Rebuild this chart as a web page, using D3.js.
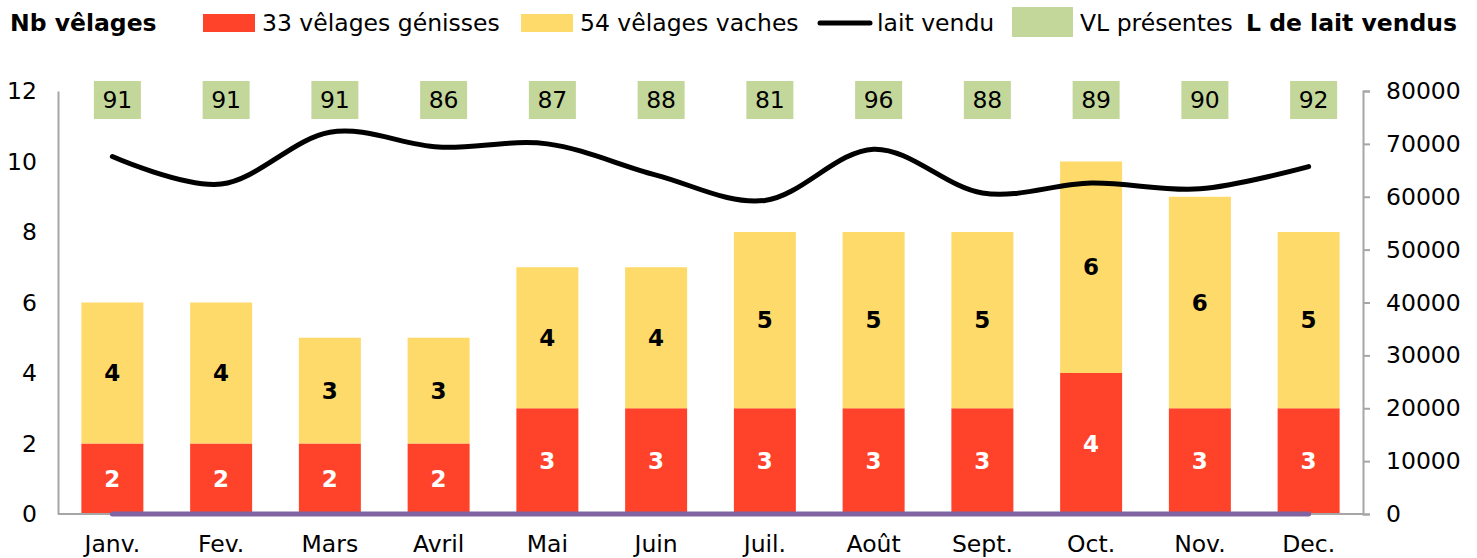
<!DOCTYPE html>
<html>
<head>
<meta charset="utf-8">
<script src="https://cdn.jsdelivr.net/npm/d3@7"></script>
<style>
  body { margin: 0; background: #fff; }
  svg { display: block; font-family: "DejaVu Sans", Verdana, sans-serif; }
</style>
</head>
<body>
<div id="chart"></div>
<script>
// mois
var months = ["Janv.", "Fev.", "Mars", "Avril", "Mai", "Juin", "Juil.", "Août", "Sept.", "Oct.", "Nov.", "Dec."];
// vêlages génisses / vaches
var genisses = [2, 2, 2, 2, 3, 3, 3, 3, 3, 4, 3, 3];
var vaches = [4, 4, 3, 3, 4, 4, 5, 5, 5, 6, 6, 5];
// litres de lait vendus
var laitVendu = [67600, 62400, 72200, 69400, 70000, 64100, 59300, 69000, 60700, 62600, 61500, 65700];
// VL présentes
var vlPresentes = [91, 91, 91, 86, 87, 88, 81, 96, 88, 89, 90, 92];
// serie a zero (ligne violette en bas)
var serieZero = [0, 0, 0, 0, 0, 0, 0, 0, 0, 0, 0, 0];

var leftTicks = [0, 2, 4, 6, 8, 10, 12];
var rightTicks = [0, 10000, 20000, 30000, 40000, 50000, 60000, 70000, 80000];

var width = 1477, height = 558;
var fs = 23.5;
var RED = "#FF432B", YELLOW = "#FDDA6A", GREEN = "#C4D79B", PURPLE = "#8064A2", AXIS = "#a6a6a6";

var svg = d3.select("#chart").append("svg")
    .attr("width", width)
    .attr("height", height);

var x = d3.scaleBand()
    .domain(months)
    .range([58, 1363])
    .paddingInner(0.43)
    .paddingOuter(0.215);

var y = d3.scaleLinear().domain([0, 12]).range([514, 91]);
var y2 = d3.scaleLinear().domain([0, 80000]).range([514, 91]);

var data = months.map(function(m, i) {
  return { m: m, g: genisses[i], v: vaches[i], lait: laitVendu[i], vl: vlPresentes[i], z: serieZero[i] };
});

// barres empilees
var bars = svg.append("g");
bars.selectAll("rect.g")
    .data(data).enter().append("rect")
    .attr("class", "g")
    .attr("x", function(d) { return x(d.m); })
    .attr("width", x.bandwidth())
    .attr("y", function(d) { return y(d.g); })
    .attr("height", function(d) { return y(0) - y(d.g); })
    .attr("fill", RED);
bars.selectAll("rect.v")
    .data(data).enter().append("rect")
    .attr("class", "v")
    .attr("x", function(d) { return x(d.m); })
    .attr("width", x.bandwidth())
    .attr("y", function(d) { return y(d.g + d.v); })
    .attr("height", function(d) { return y(d.g) - y(d.g + d.v); })
    .attr("fill", YELLOW);

// axes
var gl = svg.append("g")
    .attr("transform", "translate(58,0)")
    .call(d3.axisLeft(y).tickValues(leftTicks).tickSize(0).tickPadding(21));
var gr = svg.append("g")
    .attr("transform", "translate(1363,0)")
    .call(d3.axisRight(y2).tickValues(rightTicks).tickFormat(d3.format("d")).tickSize(7).tickPadding(16));
var gb = svg.append("g")
    .attr("transform", "translate(0,514)")
    .call(d3.axisBottom(x).tickSize(0).tickPadding(21));

[gl, gr, gb].forEach(function(g) {
  g.attr("font-family", null).attr("font-size", null);
  g.selectAll("text").style("font-size", fs + "px").attr("fill", "#000");
  g.selectAll("path, line").attr("stroke", AXIS).attr("stroke-width", 2);
});
gb.select(".domain").attr("d", "M58,0H1363");

// etiquettes des barres
bars.selectAll("text.g")
    .data(data).enter().append("text")
    .attr("x", function(d) { return x(d.m) + x.bandwidth() / 2; })
    .attr("y", function(d) { return (y(0) + y(d.g)) / 2; })
    .attr("text-anchor", "middle")
    .attr("dominant-baseline", "central")
    .attr("font-weight", "bold")
    .attr("font-size", 23)
    .attr("fill", "#fff")
    .text(function(d) { return d.g; });
bars.selectAll("text.v")
    .data(data).enter().append("text")
    .attr("x", function(d) { return x(d.m) + x.bandwidth() / 2; })
    .attr("y", function(d) { return (y(d.g) + y(d.g + d.v)) / 2; })
    .attr("text-anchor", "middle")
    .attr("dominant-baseline", "central")
    .attr("font-weight", "bold")
    .attr("font-size", 23)
    .attr("fill", "#000")
    .text(function(d) { return d.v; });

var cx = function(d) { return x(d.m) + x.bandwidth() / 2; };

// ligne violette (serie a zero)
svg.append("path")
    .datum(data)
    .attr("fill", "none")
    .attr("stroke", PURPLE)
    .attr("stroke-width", 5)
    .attr("stroke-linecap", "round")
    .attr("d", d3.line().x(cx).y(function(d) { return y(d.z); }));

// lait vendu
svg.append("path")
    .datum(data)
    .attr("fill", "none")
    .attr("stroke", "#000")
    .attr("stroke-width", 5)
    .attr("stroke-linecap", "round")
    .attr("d", d3.line().x(cx).y(function(d) { return y2(d.lait); }).curve(d3.curveCardinal.tension(0)));

// VL presentes
var vl = svg.append("g").selectAll("g")
    .data(data).enter().append("g")
    .attr("transform", function(d) { return "translate(" + (cx(d) + 5) + ",100)"; });
vl.append("rect")
    .attr("x", -23.5).attr("y", -19)
    .attr("width", 47).attr("height", 38)
    .attr("fill", GREEN);
vl.append("text")
    .attr("text-anchor", "middle")
    .attr("dominant-baseline", "central")
    .attr("font-size", fs)
    .text(function(d) { return d.vl; });

// legende
var leg = svg.append("g").attr("font-size", fs);
leg.append("text").attr("x", 10).attr("y", 31).attr("font-weight", "bold").text("Nb vêlages");
leg.append("rect").attr("x", 203).attr("y", 14).attr("width", 52).attr("height", 18).attr("fill", RED);
leg.append("text").attr("x", 262).attr("y", 31).text("33 vêlages génisses");
leg.append("rect").attr("x", 521).attr("y", 14).attr("width", 52).attr("height", 18).attr("fill", YELLOW);
leg.append("text").attr("x", 580).attr("y", 31).text("54 vêlages vaches");
leg.append("line").attr("x1", 820).attr("x2", 870).attr("y1", 23).attr("y2", 23)
    .attr("stroke", "#000").attr("stroke-width", 5).attr("stroke-linecap", "round");
leg.append("text").attr("x", 877).attr("y", 31).text("lait vendu");
leg.append("rect").attr("x", 1012).attr("y", 7).attr("width", 61).attr("height", 30).attr("fill", GREEN);
leg.append("text").attr("x", 1080).attr("y", 31).text("VL présentes");
leg.append("text").attr("x", 1246).attr("y", 31).attr("font-weight", "bold").text("L de lait vendus");
</script>
</body>
</html>
